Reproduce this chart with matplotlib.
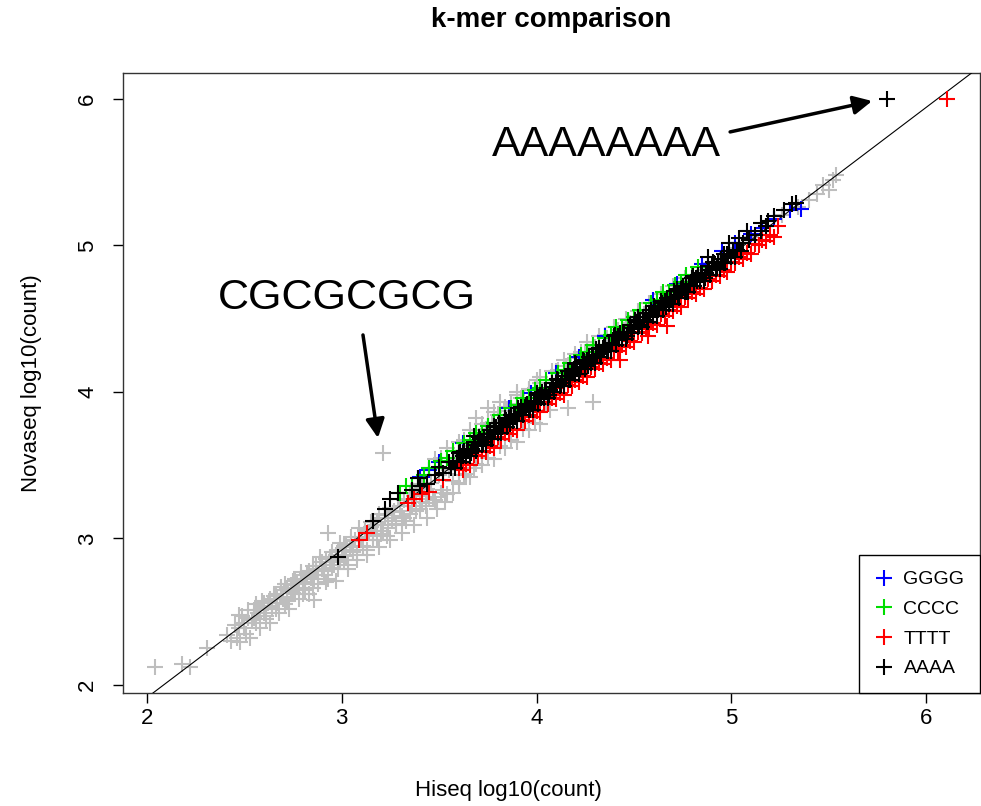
import matplotlib
matplotlib.use("Agg")
import matplotlib.pyplot as plt

plt.rcParams['font.family'] = ['Liberation Sans', 'DejaVu Sans']

# background k-mers (gray): sparse tail, outliers and fringes
gray_x = [2.04, 2.18, 2.22, 2.31, 2.41, 2.43, 2.47, 2.50, 2.52, 2.55, 2.56, 2.58, 2.60, 2.61, 2.63,
          2.64, 2.66, 2.67, 2.69, 2.70, 2.71, 2.72, 2.74, 2.75, 2.76, 2.78, 2.79, 2.80, 2.81, 2.83,
          2.84, 2.85, 2.86, 2.87, 2.88, 2.90, 2.91, 2.92, 2.93, 2.94, 2.95, 2.97, 2.98, 2.99, 3.01,
          3.02, 3.03, 3.05, 3.06, 3.08, 3.09, 3.11, 3.12, 3.13, 3.15, 3.16, 3.18, 3.19, 3.20, 3.21,
          3.22, 3.24, 3.25, 3.27, 3.28, 3.30, 3.31, 3.32, 3.34, 3.35, 3.37, 3.38, 3.40, 3.41, 3.43,
          3.44, 3.46, 3.47, 3.49, 3.50, 3.52, 3.53, 3.55, 3.57, 3.58, 3.60, 3.62, 3.64, 3.66, 3.68,
          3.69, 3.71, 3.74, 3.75, 3.77, 3.80, 3.81, 3.84, 3.87, 3.90, 3.92, 3.96, 4.00, 4.02, 4.05,
          4.07, 4.10, 4.15, 4.16, 4.20, 4.25, 4.29, 4.30, 4.36, 4.42, 4.48, 4.55, 4.62, 4.70, 4.78,
          4.86, 4.94, 5.02, 5.10, 5.18, 5.26, 5.34, 5.40, 5.44, 5.47, 5.50, 5.52, 5.54]
gray_y = [2.12, 2.14, 2.12, 2.25, 2.34, 2.30, 2.48, 2.42, 2.51, 2.46, 2.55, 2.51, 2.56, 2.47, 2.59,
          2.53, 2.62, 2.56, 2.65, 2.60, 2.69, 2.57, 2.68, 2.63, 2.72, 2.66, 2.75, 2.62, 2.70, 2.78,
          2.73, 2.66, 2.58, 2.81, 2.75, 2.84, 2.78, 2.70, 3.04, 2.87, 2.80, 2.71, 2.92, 2.84, 2.95,
          2.88, 2.79, 2.98, 2.91, 2.85, 3.01, 2.94, 3.05, 2.89, 3.08, 2.99, 3.11, 2.94, 3.03, 3.58,
          3.14, 3.07, 2.99, 3.18, 3.10, 3.22, 3.04, 3.14, 3.26, 3.17, 3.09, 3.30, 3.20, 3.35, 3.24,
          3.14, 3.38, 3.28, 3.20, 3.43, 3.33, 3.25, 3.47, 3.31, 3.54, 3.37, 3.58, 3.44, 3.63, 3.48,
          3.82, 3.70, 3.75, 3.89, 3.79, 3.84, 3.93, 3.87, 3.92, 4.00, 3.96, 4.01, 4.08, 4.06, 3.92,
          3.88, 4.14, 4.18, 3.89, 4.23, 4.27, 3.93, 4.31, 4.37, 4.42, 4.47, 4.53, 4.60, 4.67, 4.74,
          4.83, 4.90, 4.98, 5.06, 5.13, 5.21, 5.26, 5.31, 5.35, 5.41, 5.38, 5.45, 5.48]

# gray, dense low part of the cloud
gray_low_x = [2.45, 2.46, 2.47, 2.48, 2.49, 2.50, 2.51, 2.52, 2.53, 2.54,
              2.55, 2.56, 2.57, 2.58, 2.59, 2.60, 2.61, 2.62, 2.63, 2.64,
              2.65, 2.66, 2.67, 2.68, 2.69, 2.70, 2.71, 2.72, 2.73, 2.74,
              2.75, 2.76, 2.77, 2.78, 2.79, 2.80, 2.81, 2.82, 2.83, 2.84,
              2.85, 2.86, 2.87, 2.88, 2.89, 2.90, 2.91, 2.92, 2.93, 2.94,
              2.95, 2.96, 2.97, 2.98, 2.99, 3.00, 3.01, 3.02, 3.03, 3.04,
              3.05, 3.06, 3.07, 3.08, 3.09, 3.10, 3.11, 3.12, 3.13, 3.14,
              3.15, 3.16, 3.17, 3.18, 3.19, 3.20, 3.21, 3.22, 3.23, 3.24,
              3.25, 3.26, 3.27, 3.28, 3.29, 3.30, 3.31, 3.32, 3.33, 3.34,
              3.35, 3.36, 3.37, 3.38, 3.39, 3.40, 3.41, 3.42, 3.43, 3.44]
gray_low_y = [2.41, 2.32, 2.39, 2.29, 2.47, 2.39, 2.35, 2.46, 2.32, 2.44,
              2.51, 2.42, 2.49, 2.39, 2.57, 2.49, 2.45, 2.56, 2.42, 2.54,
              2.61, 2.52, 2.59, 2.49, 2.67, 2.59, 2.55, 2.66, 2.52, 2.64,
              2.71, 2.62, 2.69, 2.59, 2.77, 2.69, 2.65, 2.76, 2.62, 2.74,
              2.81, 2.72, 2.79, 2.69, 2.87, 2.79, 2.75, 2.86, 2.72, 2.84,
              2.91, 2.82, 2.89, 2.79, 2.97, 2.89, 2.85, 2.96, 2.82, 2.94,
              3.01, 2.92, 2.99, 2.89, 3.07, 2.99, 2.95, 3.06, 2.92, 3.04,
              3.11, 3.02, 3.09, 2.99, 3.17, 3.09, 3.05, 3.16, 3.02, 3.14,
              3.21, 3.12, 3.19, 3.09, 3.27, 3.19, 3.15, 3.26, 3.12, 3.24,
              3.31, 3.22, 3.29, 3.19, 3.37, 3.29, 3.25, 3.36, 3.22, 3.34]

# gray edges of the main band (upper and lower)
gray_up_x = [3.45, 3.48, 3.51, 3.54, 3.57, 3.60, 3.63, 3.66, 3.69, 3.72, 3.75, 3.78, 3.81,
             3.84, 3.87, 3.90, 3.93, 3.96, 3.99, 4.02, 4.05, 4.08, 4.11, 4.14, 4.17, 4.20,
             4.23, 4.26, 4.29, 4.32, 4.35, 4.40, 4.46, 4.52, 4.58, 4.64, 4.70, 4.76]
gray_up_y = [3.48, 3.54, 3.55, 3.62, 3.60, 3.66, 3.67, 3.74, 3.72, 3.78, 3.79, 3.86, 3.84,
             3.90, 3.91, 3.98, 3.96, 4.02, 4.03, 4.10, 4.08, 4.14, 4.15, 4.22, 4.20, 4.26,
             4.27, 4.34, 4.32, 4.38, 4.39, 4.44, 4.50, 4.55, 4.61, 4.67, 4.72, 4.78]
gray_dn_x = [3.45, 3.48, 3.51, 3.54, 3.57, 3.60, 3.63, 3.66, 3.69, 3.72, 3.75, 3.78, 3.81,
             3.84, 3.87, 3.90, 3.93, 3.96, 3.99, 4.02]
gray_dn_y = [3.27, 3.26, 3.31, 3.30, 3.39, 3.38, 3.43, 3.42, 3.51, 3.50, 3.55, 3.54, 3.63,
             3.62, 3.67, 3.66, 3.75, 3.74, 3.79, 3.78]

gggg_x = [3.40, 3.45, 3.50, 3.62, 3.75, 3.86, 3.97, 4.10, 4.22, 4.35, 4.47, 4.60, 4.72, 4.85,
          4.95, 5.02, 5.10, 5.16, 5.22, 5.30, 5.36]
gggg_y = [3.42, 3.47, 3.52, 3.65, 3.77, 3.89, 3.99, 4.13, 4.24, 4.38, 4.49, 4.63, 4.74, 4.87,
          4.96, 5.02, 5.08, 5.12, 5.18, 5.24, 5.25]

cccc_x = [3.30, 3.33, 3.36, 3.39, 3.42, 3.45, 3.48, 3.51, 3.54, 3.57, 3.60, 3.63, 3.66, 3.69,
          3.72, 3.75, 3.78, 3.81, 3.84, 3.87, 3.90, 3.93, 3.96, 3.99, 4.02, 4.05, 4.08, 4.11,
          4.14, 4.17, 4.20, 4.23, 4.26, 4.29, 4.32, 4.35, 4.38, 4.41, 4.44, 4.47, 4.50, 4.53,
          4.56, 4.59, 4.62, 4.65, 4.68, 4.71, 4.74, 4.77, 4.80, 4.83]
cccc_y = [3.31, 3.36, 3.36, 3.41, 3.43, 3.48, 3.48, 3.53, 3.55, 3.60, 3.60, 3.65, 3.67, 3.72,
          3.72, 3.77, 3.79, 3.84, 3.84, 3.89, 3.91, 3.96, 3.96, 4.01, 4.03, 4.08, 4.08, 4.13,
          4.15, 4.20, 4.20, 4.25, 4.27, 4.32, 4.32, 4.37, 4.39, 4.44, 4.44, 4.49, 4.51, 4.56,
          4.56, 4.61, 4.63, 4.68, 4.68, 4.73, 4.75, 4.80, 4.80, 4.85]

tttt_x = [3.60, 3.62, 3.64, 3.66, 3.68, 3.70, 3.72, 3.74, 3.76, 3.78, 3.80, 3.82,
          3.84, 3.86, 3.88, 3.90, 3.92, 3.94, 3.96, 3.98, 4.00, 4.02, 4.04, 4.06,
          4.08, 4.10, 4.12, 4.14, 4.16, 4.18, 4.20, 4.22, 4.24, 4.26, 4.28, 4.30,
          4.32, 4.34, 4.36, 4.38, 4.40, 4.42, 4.44, 4.46, 4.48, 4.50, 4.52, 4.54,
          4.56, 4.58, 4.60, 4.62, 4.64, 4.66, 4.68, 4.70, 4.72, 4.74, 4.76, 4.78,
          4.80, 4.82, 4.84, 4.86, 4.88, 4.90, 4.92, 4.94, 4.96, 4.98, 5.00, 5.02,
          5.04, 5.06, 5.08, 5.10, 5.12, 5.14, 5.16, 5.18, 5.20, 5.22, 5.24,
          3.09, 3.13, 3.34, 3.37, 3.41, 3.45, 3.52, 4.67, 4.57, 4.43, 4.10, 3.85, 6.11]
tttt_y = [3.48, 3.47, 3.51, 3.50, 3.57, 3.56, 3.60, 3.59, 3.63, 3.62, 3.69, 3.68,
          3.72, 3.71, 3.75, 3.74, 3.81, 3.80, 3.84, 3.83, 3.87, 3.86, 3.93, 3.92,
          3.96, 3.95, 3.99, 3.98, 4.05, 4.04, 4.08, 4.07, 4.11, 4.10, 4.17, 4.16,
          4.20, 4.19, 4.23, 4.22, 4.29, 4.28, 4.32, 4.31, 4.35, 4.34, 4.41, 4.40,
          4.44, 4.43, 4.47, 4.46, 4.53, 4.52, 4.56, 4.55, 4.59, 4.58, 4.65, 4.64,
          4.68, 4.67, 4.71, 4.70, 4.77, 4.76, 4.80, 4.79, 4.83, 4.82, 4.89, 4.88,
          4.92, 4.91, 4.95, 4.94, 5.01, 5.00, 5.04, 5.03, 5.07, 5.06, 5.13,
          2.99, 3.04, 3.24, 3.27, 3.30, 3.32, 3.40, 4.45, 4.38, 4.22, 4.03, 3.78, 6.00]

# AAAA: dense core of the band (two interleaved layers)
aaaa_core_x = [3.55, 3.56, 3.57, 3.58, 3.59, 3.60, 3.61, 3.62,
               3.63, 3.64, 3.65, 3.66, 3.67, 3.68, 3.69, 3.70,
               3.71, 3.72, 3.73, 3.74, 3.75, 3.76, 3.77, 3.78,
               3.79, 3.80, 3.81, 3.82, 3.83, 3.84, 3.85, 3.86,
               3.87, 3.88, 3.89, 3.90, 3.91, 3.92, 3.93, 3.94,
               3.95, 3.96, 3.97, 3.98, 3.99, 4.00, 4.01, 4.02,
               4.03, 4.04, 4.05, 4.06, 4.07, 4.08, 4.09, 4.10,
               4.11, 4.12, 4.13, 4.14, 4.15, 4.16, 4.17, 4.18,
               4.19, 4.20, 4.21, 4.22, 4.23, 4.24, 4.25, 4.26,
               4.27, 4.28, 4.29, 4.30, 4.31, 4.32, 4.33, 4.34,
               4.35, 4.36, 4.37, 4.38, 4.39, 4.40, 4.41, 4.42,
               4.43, 4.44, 4.45, 4.46, 4.47, 4.48, 4.49, 4.50,
               4.51, 4.52, 4.53, 4.54, 4.55, 4.56, 4.57, 4.58,
               4.59, 4.60, 4.61, 4.62, 4.63, 4.64, 4.65, 4.66,
               4.67, 4.68, 4.69, 4.70, 4.71, 4.72, 4.73, 4.74,
               4.75, 4.76, 4.77, 4.78, 4.79, 4.80, 4.81, 4.82,
               4.83, 4.84, 4.85, 4.86, 4.87, 4.88, 4.89, 4.90,
               4.91, 4.92, 4.93, 4.94, 4.95, 4.96, 4.97, 4.98,
               4.99, 5.00, 5.01, 5.02, 5.03, 5.04, 5.05, 5.06]
aaaa_core_y = [3.52, 3.48, 3.52, 3.48, 3.53, 3.58, 3.52, 3.58,
               3.60, 3.56, 3.60, 3.56, 3.61, 3.66, 3.60, 3.66,
               3.68, 3.64, 3.68, 3.64, 3.69, 3.74, 3.68, 3.74,
               3.76, 3.72, 3.76, 3.72, 3.77, 3.82, 3.76, 3.82,
               3.84, 3.80, 3.84, 3.80, 3.85, 3.90, 3.84, 3.90,
               3.92, 3.88, 3.92, 3.88, 3.93, 3.98, 3.92, 3.98,
               4.00, 3.96, 4.00, 3.96, 4.01, 4.06, 4.00, 4.06,
               4.08, 4.04, 4.08, 4.04, 4.09, 4.14, 4.08, 4.14,
               4.16, 4.12, 4.16, 4.12, 4.17, 4.22, 4.16, 4.22,
               4.24, 4.20, 4.24, 4.20, 4.25, 4.30, 4.24, 4.30,
               4.32, 4.28, 4.32, 4.28, 4.33, 4.38, 4.32, 4.38,
               4.40, 4.36, 4.40, 4.36, 4.41, 4.46, 4.40, 4.46,
               4.48, 4.44, 4.48, 4.44, 4.49, 4.54, 4.48, 4.54,
               4.56, 4.52, 4.56, 4.52, 4.57, 4.62, 4.56, 4.62,
               4.64, 4.60, 4.64, 4.60, 4.65, 4.70, 4.64, 4.70,
               4.72, 4.68, 4.72, 4.68, 4.73, 4.78, 4.72, 4.78,
               4.80, 4.76, 4.80, 4.76, 4.81, 4.86, 4.80, 4.86,
               4.88, 4.84, 4.88, 4.84, 4.89, 4.94, 4.88, 4.94,
               4.96, 4.92, 4.96, 4.92, 4.97, 5.02, 4.96, 5.02]
aaaa_mid_x = [3.605, 3.625, 3.645, 3.665, 3.685, 3.705, 3.725, 3.745, 3.765, 3.785,
              3.805, 3.825, 3.845, 3.865, 3.885, 3.905, 3.925, 3.945, 3.965, 3.985,
              4.005, 4.025, 4.045, 4.065, 4.085, 4.105, 4.125, 4.145, 4.165, 4.185,
              4.205, 4.225, 4.245, 4.265, 4.285, 4.305, 4.325, 4.345, 4.365, 4.385,
              4.405, 4.425, 4.445, 4.465, 4.485, 4.505, 4.525, 4.545, 4.565, 4.585,
              4.605, 4.625, 4.645, 4.665, 4.685, 4.705, 4.725, 4.745, 4.765, 4.785,
              4.805, 4.825, 4.845, 4.865, 4.885, 4.905, 4.925, 4.945, 4.965, 4.985]
aaaa_mid_y = [3.590, 3.560, 3.610, 3.580, 3.635, 3.690, 3.660, 3.710, 3.680, 3.735,
              3.790, 3.760, 3.810, 3.780, 3.835, 3.890, 3.860, 3.910, 3.880, 3.935,
              3.990, 3.960, 4.010, 3.980, 4.035, 4.090, 4.060, 4.110, 4.080, 4.135,
              4.190, 4.160, 4.210, 4.180, 4.235, 4.290, 4.260, 4.310, 4.280, 4.335,
              4.390, 4.360, 4.410, 4.380, 4.435, 4.490, 4.460, 4.510, 4.480, 4.535,
              4.590, 4.560, 4.610, 4.580, 4.635, 4.690, 4.660, 4.710, 4.680, 4.735,
              4.790, 4.760, 4.810, 4.780, 4.835, 4.890, 4.860, 4.910, 4.880, 4.935]
# AAAA: lower tail, sparse top end and the AAAAAAAA outlier
aaaa_x = [2.98, 3.16, 3.22, 3.25, 3.36, 3.40, 3.44, 3.48, 3.52,
          5.09, 5.12, 5.15, 5.18,
          3.29, 3.39, 3.50, 3.68, 3.78, 4.20, 4.52, 4.88, 4.99, 5.04, 5.08, 5.15, 5.19, 5.22,
          5.27, 5.31, 5.33, 5.80]
aaaa_y = [2.87, 3.12, 3.20, 3.27, 3.33, 3.36, 3.37, 3.43, 3.45,
          5.04, 5.07, 5.10, 5.13,
          3.31, 3.41, 3.49, 3.70, 3.77, 4.20, 4.51, 4.92, 5.02, 5.05, 5.10, 5.15, 5.17, 5.20,
          5.24, 5.28, 5.29, 6.00]

line_a, line_b = -0.10, 1.007

fig = plt.figure(figsize=(9.81, 8.06), dpi=100)
ax = fig.add_axes([0.1254, 0.1402, 0.8736, 0.7692])

mk = dict(linestyle='none', marker='+', markersize=12, markeredgewidth=1.5)
gcol = '#bebebe'
ax.plot(gray_x, gray_y, color=gcol, zorder=2, **mk)
ax.plot(gray_low_x, gray_low_y, color=gcol, zorder=2, **mk)
ax.plot(gray_up_x, gray_up_y, color=gcol, zorder=2, **mk)
ax.plot(gray_dn_x, gray_dn_y, color=gcol, zorder=2, **mk)
ax.axline((0, line_a), slope=line_b, color='black', lw=0.8, zorder=3)
ax.plot(gggg_x, gggg_y, color='blue', label='GGGG', zorder=4, **mk)
ax.plot(cccc_x, cccc_y, color='#00dd00', label='CCCC', zorder=5, **mk)
ax.plot(tttt_x, tttt_y, color='red', label='TTTT', zorder=6, **mk)
ax.plot(aaaa_x, aaaa_y, color='black', label='AAAA', zorder=7, **mk)
ax.plot(aaaa_core_x, aaaa_core_y, color='black', zorder=7, **mk)
ax.plot(aaaa_mid_x, aaaa_mid_y, color='black', zorder=7, **mk)

ax.set_xlim(1.877, 6.277)
ax.set_ylim(1.945, 6.177)
ax.set_xticks([2, 3, 4, 5, 6])
ax.set_yticks([2, 3, 4, 5, 6])
ax.tick_params(direction='out', length=7, width=1, labelsize=16, colors='black')
ax.tick_params(axis='x', pad=4)
ax.tick_params(axis='y', pad=11, labelrotation=90)
for lab in ax.get_yticklabels():
    lab.set_va('center')
for s in ax.spines.values():
    s.set_linewidth(1.0)
    s.set_color('#333333')

ax.set_xlabel('Hiseq log10(count)', fontsize=16)
ax.set_ylabel('Novaseq log10(count)', fontsize=16)
ax.xaxis.set_label_coords(0.45, -0.140)
ax.yaxis.set_label_coords(-0.095, 0.5)
fig.text(0.562, 0.975, 'k-mer comparison', ha='center', va='center', fontsize=20, fontweight='bold')

# annotations
ax.text(4.357, 5.686, 'AAAAAAAA', fontsize=31, ha='center', va='center')
ax.text(3.027, 4.642, 'CGCGCGCG', fontsize=31, ha='center', va='center')
arrow = dict(arrowstyle='-|>', color='black', lw=2.5, mutation_scale=28, shrinkA=0, shrinkB=0)
ax.annotate('', xy=(5.723, 5.986), xytext=(4.994, 5.775), arrowprops=arrow)
ax.annotate('', xy=(3.186, 3.686), xytext=(3.109, 4.389), arrowprops=arrow)

leg = ax.legend(loc='lower right', borderaxespad=0, fontsize=14, fancybox=False,
                framealpha=1, edgecolor='black', handlelength=1.0, handletextpad=0.5,
                borderpad=0.8, labelspacing=0.62)
leg.get_frame().set_linewidth(1.0)

fig.savefig('out.png', dpi=100)
